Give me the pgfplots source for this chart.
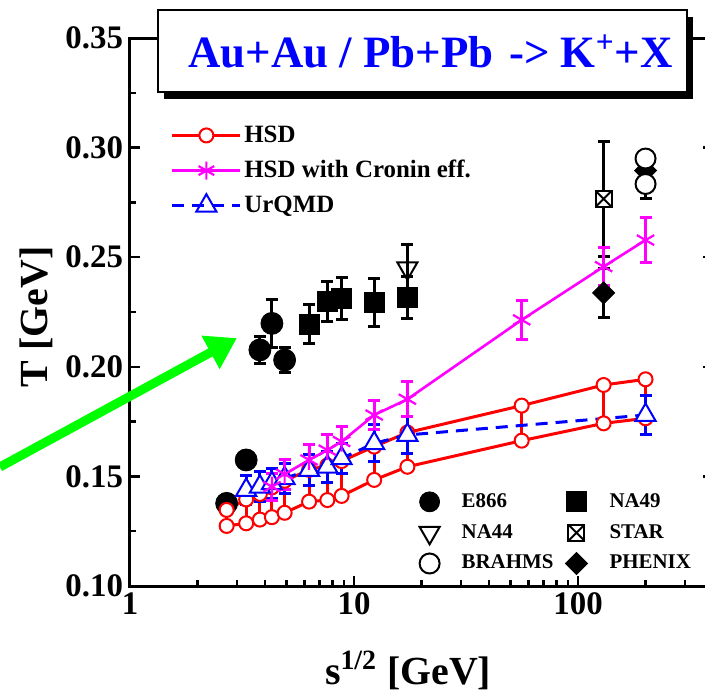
\documentclass[border=0pt]{standalone}
\usepackage{fontspec}
\setmainfont{Liberation Serif}
\usepackage{pgfplots}
\pgfplotsset{compat=1.18}
\usetikzlibrary{arrows.meta,shadows}
\definecolor{pgreen}{rgb}{0,1,0}
\definecolor{pmag}{rgb}{1,0,1}
\pgfdeclareplotmark{boxx}{%
  \pgfpathrectangle{\pgfqpoint{-\pgfplotmarksize}{-\pgfplotmarksize}}{\pgfqpoint{2\pgfplotmarksize}{2\pgfplotmarksize}}%
  \pgfusepathqfillstroke
  \pgfpathmoveto{\pgfqpoint{-\pgfplotmarksize}{-\pgfplotmarksize}}\pgfpathlineto{\pgfqpoint{\pgfplotmarksize}{\pgfplotmarksize}}%
  \pgfpathmoveto{\pgfqpoint{-\pgfplotmarksize}{\pgfplotmarksize}}\pgfpathlineto{\pgfqpoint{\pgfplotmarksize}{-\pgfplotmarksize}}%
  \pgfusepathqstroke}
\begin{document}
\begin{tikzpicture}
\path[use as bounding box] (-65bp,-54bp) rectangle (287.5bp,293bp);
\begin{axis}[
  at={(0,0)}, anchor=south west,
  scale only axis, width=291.5bp, height=274bp,
  xmode=log, xmin=1, xmax=400, ymin=0.10, ymax=0.35,
  clip=false,
  axis line style={line width=1.5bp},
  xtick={1,10,100}, xticklabels={1,10,100},
  minor xtick={2,3,4,5,6,7,8,9,20,30,40,50,60,70,80,90,200,300},
  ytick={0.10,0.15,0.20,0.25,0.30,0.35},
  yticklabels={0.10,0.15,0.20,0.25,0.30,0.35},
  minor ytick={0.125,0.175,0.225,0.275,0.325},
  tick align=inside,
  major tick length=5bp, minor tick length=3bp,
  every tick/.append style={black, line width=1.2bp},
  ticklabel style={font=\bfseries\fontsize{16.5}{16.5}\selectfont},
  xlabel={s\textsuperscript{1/2} [GeV]},
  ylabel={T [GeV]},
  xlabel style={font=\bfseries\fontsize{20}{20}\selectfont, at={(axis description cs:0.477,-0.179)}, anchor=base},
  ylabel style={font=\bfseries\fontsize{20}{20}\selectfont, at={(axis description cs:-0.142,0.491)}, anchor=base},
  error bars/error bar style={line width=1.5bp},
  error bars/error mark options={rotate=90, mark size=3bp, line width=1.5bp},
  legend image code/.code={%
    \draw[overlay, mark repeat=2,mark phase=2] plot coordinates {(0bp,0bp)(17bp,0bp)(34bp,0bp)};
    \path[draw=none, fill=none] (0bp,-3bp) rectangle (34bp,4bp);},
  legend style={at={(rel axis cs:0.072,0.848)}, anchor=north west, draw=none, fill=none, inner sep=0pt,
    font=\bfseries\fontsize{12.5}{12.5}\selectfont, row sep=3.6bp, cells={anchor=west}},
]
% E866
\addplot[forget plot, only marks, black, mark=*, mark size=5.5bp,
  error bars/.cd, y dir=both, y explicit] coordinates {
  (2.7,0.1377) +- (0,0)
  (3.3,0.1575) +- (0,0)
  (3.8,0.2077) +- (0,0.006)
  (4.3,0.2198) +- (0,0.011)
  (4.9,0.2031) +- (0,0.0058)
};
% NA49
\addplot[forget plot, only marks, black, mark=square*, mark size=5bp,
  error bars/.cd, y dir=both, y explicit] coordinates {
  (6.3,0.2195) +- (0,0.009)
  (7.6,0.2297) +- (0,0.009)
  (8.8,0.2312) +- (0,0.0094)
  (12.3,0.2294) +- (0,0.011)
  (17.3,0.2315) +- (0,0.0095)
};
% NA44
\addplot[forget plot, only marks, black, mark=triangle, mark size=5.8bp, mark options={rotate=180, fill=white, line width=1bp},
  error bars/.cd, y dir=both, y explicit] coordinates {
  (17.3,0.245) +- (0,0.011)
};
% STAR
\addplot[forget plot, only marks, black, mark=boxx, mark size=4bp, mark options={fill=white, line width=1bp},
  error bars/.cd, y dir=both, y explicit] coordinates {
  (130,0.2766) +- (0,0.0262)
};
% PHENIX
\addplot[forget plot, only marks, black, mark=square*, mark size=3.9bp, mark options={rotate=45},
  error bars/.cd, y dir=both, y explicit] coordinates {
  (130,0.2337) +- (0,0.011)
  (200,0.2895) +- (0,0.003)
};
% BRAHMS
\addplot[forget plot, only marks, black, mark=*, mark size=5bp, mark options={fill=white, line width=1bp},
  error bars/.cd, y dir=both, y explicit] coordinates {
  (200,0.2950) +- (0,0.003)
  (200,0.2834) +- (0,0.0064)
};
% HSD lower and upper
\addplot[forget plot, red, line width=1.5bp, mark=*, mark size=3.5bp,
  mark options={fill=white, draw=red, line width=1bp},
  error bars/.cd, y dir=plus, y explicit, error mark=none,
  error bar style={line width=1.5bp, red}] coordinates {
  (2.7,0.1274) +- (0,0.0073)
  (3.3,0.1286) +- (0,0.0109)
  (3.8,0.1303) +- (0,0.0117)
  (4.3,0.1314) +- (0,0.0136)
  (4.9,0.1334) +- (0,0.0146)
  (6.3,0.1385) +- (0,0.0145)
  (7.6,0.1392) +- (0,0.0158)
  (8.8,0.1411) +- (0,0.0159)
  (12.3,0.1484) +- (0,0.0152)
  (17.3,0.1544) +- (0,0.0156)
  (56,0.1663) +- (0,0.0160)
  (130,0.1742) +- (0,0.0175)
  (200,0.1765) +- (0,0.0178)
};
\addplot[forget plot, red, line width=1.5bp, mark=*, mark size=3.5bp,
  mark options={fill=white, draw=red, line width=1bp}] coordinates {
  (2.7,0.1347) (3.3,0.1395) (3.8,0.1420) (4.3,0.1450) (4.9,0.1480)
  (6.3,0.1530) (7.6,0.1550) (8.8,0.1570) (12.3,0.1636) (17.3,0.1700)
  (56,0.1823) (130,0.1917) (200,0.1943)
};
% UrQMD
\addplot[forget plot, blue, line width=1.5bp, dash pattern=on 6bp off 4bp, mark=triangle*, mark size=5.8bp,
  mark options={fill=white, draw=blue, line width=1bp, solid},
  error bars/.cd, y dir=both, y explicit, error bar style={solid, line width=1.5bp, blue}] coordinates {
  (3.3,0.1438) +- (0,0.0068)
  (3.8,0.1453) +- (0,0.0068)
  (4.3,0.1468) +- (0,0.0068)
  (4.9,0.1491) +- (0,0.0068)
  (6.3,0.1529) +- (0,0.007)
  (7.6,0.1544) +- (0,0.007)
  (8.8,0.1582) +- (0,0.007)
  (12.3,0.1651) +- (0,0.0085)
  (17.3,0.1689) +- (0,0.0085)
  (200,0.1780) +- (0,0.0087)
};
% HSD with Cronin
\addplot[forget plot, pmag, line width=1.3bp, mark=asterisk, mark size=5bp,
  mark options={line width=1.1bp},
  error bars/.cd, y dir=both, y explicit, error bar style={line width=1.5bp, pmag}] coordinates {
  (4.3,0.1453) +- (0,0.0061)
  (4.9,0.1510) +- (0,0.0068)
  (6.3,0.1575) +- (0,0.007)
  (7.6,0.1620) +- (0,0.0072)
  (8.8,0.1659) +- (0,0.0068)
  (12.3,0.1780) +- (0,0.0065)
  (17.3,0.1852) +- (0,0.008)
  (56,0.2214) +- (0,0.009)
  (130,0.2457) +- (0,0.0087)
  (200,0.2578) +- (0,0.0103)
};
\addlegendimage{red, line width=1.5bp, mark=*, mark size=3.5bp, mark options={fill=white, draw=red, line width=1bp}}
\addlegendentry{HSD}
\addlegendimage{pmag, line width=1.3bp, mark=asterisk, mark size=4.5bp, mark options={line width=1.1bp}}
\addlegendentry{HSD with Cronin eff.}
\addlegendimage{blue, line width=1.5bp, dash pattern=on 6bp off 4bp, mark=triangle, mark size=5.8bp, mark options={fill=white, draw=blue, line width=1bp, solid}}
\addlegendentry{UrQMD}
\draw[pgreen, line width=4.5bp, -{Triangle[length=15bp,width=18bp]}] (axis cs:0.2628,0.1543) -- (axis cs:3.0,0.2131);
\node[draw=black, line width=1bp, fill=white, minimum width=264.5bp, minimum height=41bp, inner sep=0pt,
  drop shadow={shadow xshift=3bp, shadow yshift=-3.5bp, fill=black, opacity=1},
  font=\bfseries\fontsize{22.5}{22.5}\selectfont, text=blue] at (rel axis cs:0.5017,0.9763)
  {\hspace*{8bp}Au+Au / Pb+Pb\hspace{0.35em}-> K\textsuperscript{+}+X};
\end{axis}
\begin{axis}[
  at={(0,0)}, anchor=south west,
  scale only axis, width=291.5bp, height=274bp,
  xmin=0, xmax=1, ymin=0, ymax=1, hide axis,
  legend columns=2,
  legend style={at={(rel axis cs:0.496,0.177)}, anchor=north west, draw=none, fill=none, inner sep=0pt,
    font=\bfseries\fontsize{10.5}{10.5}\selectfont, row sep=3bp, cells={anchor=west},
    /tikz/every odd column/.append style={column sep=9bp},
    /tikz/every even column/.append style={column sep=4bp}},
]
\addlegendimage{only marks, black, mark=*, mark size=5bp}
\addlegendentry{E866}
\addlegendimage{only marks, black, mark=square*, mark size=5bp}
\addlegendentry{NA49}
\addlegendimage{only marks, black, mark=triangle, mark size=5.8bp, mark options={rotate=180, line width=1bp}}
\addlegendentry{NA44}
\addlegendimage{only marks, black, mark=boxx, mark size=4bp, mark options={fill=white, line width=1bp}}
\addlegendentry{STAR}
\addlegendimage{only marks, black, mark=*, mark size=5bp, mark options={fill=white, line width=1bp}}
\addlegendentry{BRAHMS}
\addlegendimage{only marks, black, mark=square*, mark size=3.9bp, mark options={rotate=45}}
\addlegendentry{PHENIX}
\end{axis}
\end{tikzpicture}
\end{document}
